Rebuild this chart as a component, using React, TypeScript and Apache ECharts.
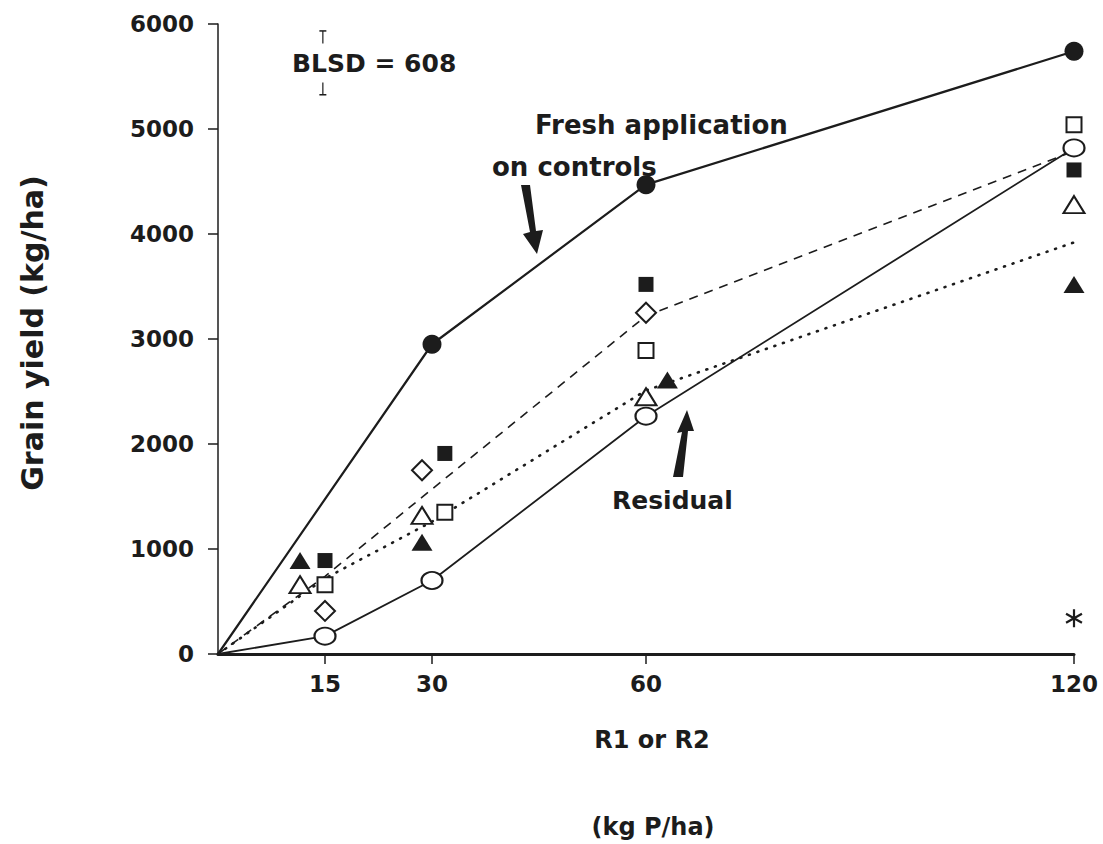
import React, { useEffect, useRef } from "react";
import * as echarts from "echarts";

const FONT = "DejaVu Sans";
const INK = "#1c1c1c";

// x ticks (kg P/ha)
const xTicks = [15, 30, 60, 120];

// lines
const freshData = [[0, 0], [30, 2950], [60, 4470], [120, 5740]];
const residualData = [[0, 0], [15, 170], [30, 700], [60, 2265], [120, 4820]];
const dashedData = [[0, 0], [15, 740], [30, 1570], [60, 3220], [120, 4790]];
const dottedData = [[0, 0], [15, 720], [30, 1260], [60, 2510], [120, 3920]];

// unconnected markers
const filledSquare = [[15, 890], [31.8, 1910], [60, 3520], [120, 4610]];
const openSquare = [[15, 660], [31.8, 1350], [60, 2890], [120, 5040]];
const openDiamond = [[15, 410], [28.6, 1750], [60, 3250]];
const openTriangle = [[11.5, 660], [28.6, 1320], [60, 2450], [120, 4280]];
const filledTriangle = [[11.5, 890], [28.6, 1065], [63, 2610], [120, 3520]];
const asteriskPoint = [[120, 340]];

// BLSD bar
const blsdValue = 608;
const blsdX = 14.7;
const blsdCenter = 5630;

const ASTERISK =
  "path://M-1.2,-10 L1.2,-10 L1.2,10 L-1.2,10 Z " +
  "M-8.06,6.04 L-9.26,3.96 L8.06,-6.04 L9.26,-3.96 Z " +
  "M9.26,3.96 L8.06,6.04 L-9.26,-3.96 L-8.06,-6.04 Z";

const txt = (text: string, x: number, y: number, size: number, align = "left", extra: any = {}) => ({
  type: "text",
  x,
  y,
  z: 100,
  ...extra,
  style: {
    text,
    fill: INK,
    fontFamily: FONT,
    fontWeight: "bold",
    fontSize: size,
    align,
    verticalAlign: "middle",
    ...(extra.style || {}),
  },
});

export default function App() {
  const ref = useRef<HTMLDivElement>(null);
  useEffect(() => {
    if (!ref.current) return;
    const chart = echarts.init(ref.current, undefined, { renderer: "svg" });
    const lineItems = (d: number[][]) =>
      d.map((p, i) => (i === 0 ? { value: p, symbol: "none" } : { value: p }));
    const openStyle = { color: "#fff", borderColor: INK, borderWidth: 2, opacity: 1 };
    const filledStyle = { color: INK, borderColor: INK, borderWidth: 0, opacity: 1 };
    chart.setOption({
      animation: false,
      backgroundColor: "#fff",
      grid: { left: 218, right: 29, top: 24, bottom: 190, containLabel: false },
      xAxis: {
        type: "value",
        min: 0,
        max: 120,
        splitLine: { show: false },
        axisLine: { show: true, lineStyle: { color: INK, width: 3 } },
        axisTick: { show: true, customValues: xTicks, length: 10, lineStyle: { color: INK, width: 1.5 } },
        axisLabel: {
          customValues: xTicks,
          color: INK,
          fontFamily: FONT,
          fontWeight: "bold",
          fontSize: 23,
          margin: 18,
        },
      },
      yAxis: {
        type: "value",
        min: 0,
        max: 6000,
        interval: 1000,
        splitLine: { show: false },
        axisLine: { show: true, lineStyle: { color: INK, width: 1.5 } },
        axisTick: { show: true, length: 10, lineStyle: { color: INK, width: 1.5 } },
        axisLabel: {
          color: INK,
          fontFamily: FONT,
          fontWeight: "bold",
          fontSize: 23,
          margin: 24,
          formatter: (v: number) => String(v),
        },
      },
      series: [
        {
          type: "line",
          data: [[blsdX, blsdCenter - blsdValue / 2], [blsdX, blsdCenter + blsdValue / 2]],
          symbol: "rect",
          symbolSize: [7, 1.5],
          itemStyle: { color: INK },
          lineStyle: { color: INK, width: 1.2 },
          z: 3,
        },
        {
          type: "line",
          data: dashedData,
          symbol: "none",
          lineStyle: { color: INK, width: 1.6, type: [9, 7] },
          z: 2,
        },
        {
          type: "line",
          data: dottedData,
          symbol: "none",
          lineStyle: { color: INK, width: 2.6, type: [1, 8], cap: "round" },
          z: 2,
        },
        {
          type: "line",
          data: lineItems(freshData),
          symbol: "circle",
          symbolSize: 19,
          itemStyle: filledStyle,
          lineStyle: { color: INK, width: 2.2 },
          z: 4,
        },
        {
          type: "line",
          data: lineItems(residualData),
          symbol: "circle",
          symbolSize: [21, 17],
          itemStyle: openStyle,
          lineStyle: { color: INK, width: 1.8 },
          z: 4,
        },
        { type: "scatter", data: filledSquare, symbol: "rect", symbolSize: 15, itemStyle: filledStyle, z: 5 },
        { type: "scatter", data: openSquare, symbol: "rect", symbolSize: 15, itemStyle: openStyle, z: 5 },
        { type: "scatter", data: openDiamond, symbol: "diamond", symbolSize: [20, 20], itemStyle: openStyle, z: 5 },
        { type: "scatter", data: openTriangle, symbol: "triangle", symbolSize: [21, 17], itemStyle: openStyle, z: 5 },
        { type: "scatter", data: filledTriangle, symbol: "triangle", symbolSize: [21, 17], itemStyle: filledStyle, z: 5 },
        { type: "scatter", data: asteriskPoint, symbol: ASTERISK, symbolSize: [17, 18], itemStyle: { color: INK, opacity: 1 }, z: 5 },
      ],
      graphic: [
        txt("BLSD = 608", 290, 63, 25, "left", { style: { backgroundColor: "#fff", padding: [7, 2] } }),
        txt("Fresh application", 535, 125, 26),
        txt("on controls", 492, 167, 26),
        txt("Residual", 612, 500, 25),
        txt("R1 or R2", 652, 740, 24, "center"),
        txt("(kg P/ha)", 653, 827, 24, "center"),
        txt("Grain yield (kg/ha)", 32, 333, 30, "center", { rotation: Math.PI / 2 }),
        {
          type: "polygon",
          z: 100,
          shape: {
            points: [[521, 185], [530, 185], [536, 231], [543, 230], [537, 254], [523, 234], [530, 232]],
          },
          style: { fill: INK },
        },
        {
          type: "polygon",
          z: 100,
          shape: {
            points: [[687, 410], [694, 431], [688, 431], [683, 477], [673, 477], [682, 432], [677, 433]],
          },
          style: { fill: INK },
        },
      ],
    });
    return () => chart.dispose();
  }, []);
  return (
    <div
      ref={ref}
      style={{ position: "fixed", left: 0, top: 0, width: 1103, height: 844, background: "#fff" }}
    />
  );
}
